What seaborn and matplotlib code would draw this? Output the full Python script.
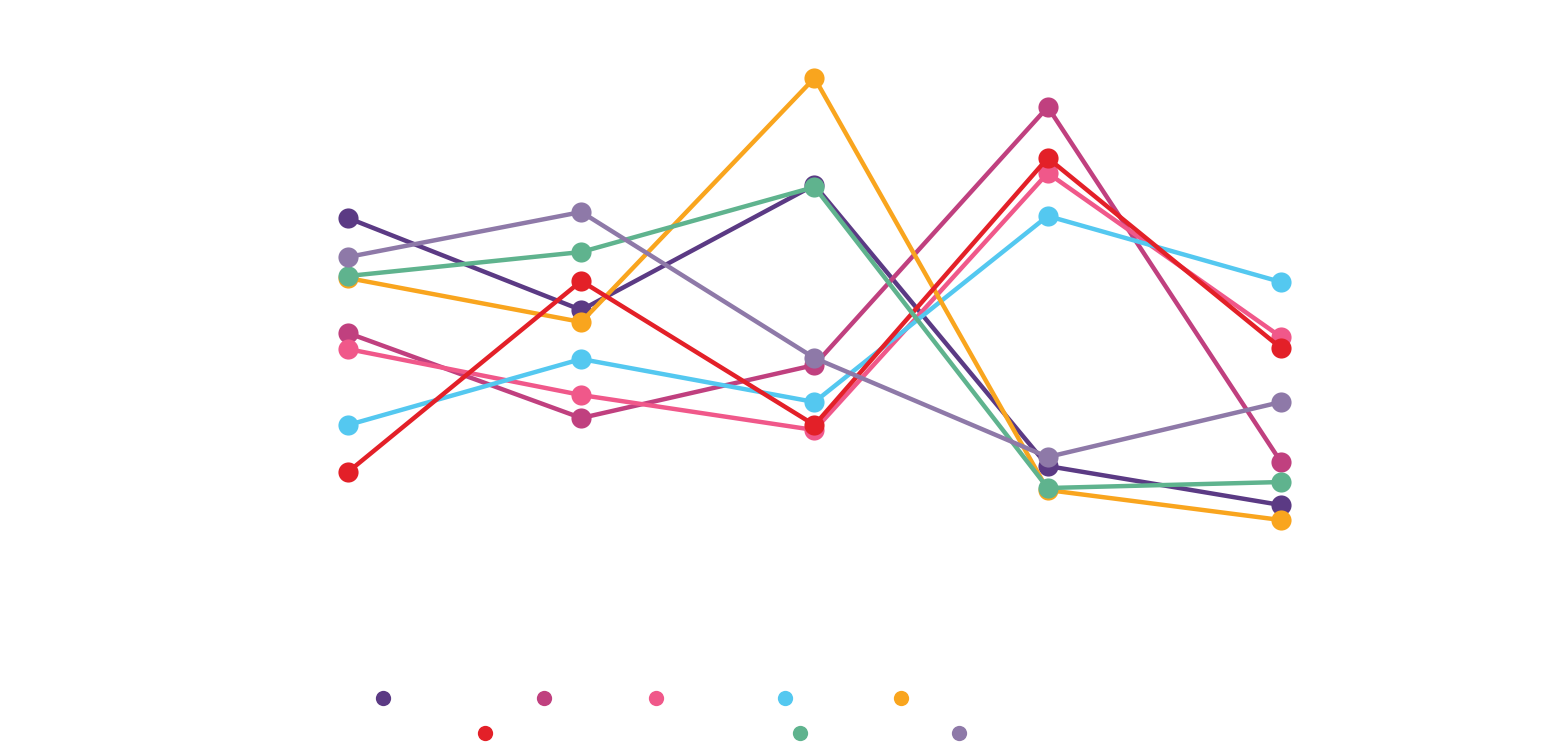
import pandas as pd
import seaborn as sns
import matplotlib.pyplot as plt
from matplotlib.lines import Line2D

# five periods, eight series (no labels are shown on the chart)
periods = [0, 1, 2, 3, 4]
series = ["s1", "s2", "s3", "s4", "s5", "s6", "s7", "s8"]

s1 = [76.4, 58.0, 83.0, 26.8, 19.0]
s2 = [53.4, 36.4, 47.0, 98.6, 27.6]
s3 = [50.2, 41.0, 34.0, 85.4, 52.6]
s4 = [35.0, 48.2, 39.6, 76.8, 63.6]
s5 = [64.4, 55.6, 104.4, 22.0, 16.0]
s6 = [25.6, 63.8, 35.0, 88.4, 50.4]
s7 = [64.8, 69.6, 82.6, 22.4, 23.6]
s8 = [68.6, 77.6, 48.4, 28.6, 39.6]

colors = ["#5B3A84", "#C0407F", "#F0588A", "#54C8F0",
          "#F9A51E", "#E32028", "#5FB38E", "#8E79A8"]

rows = []
for name, vals in zip(series, [s1, s2, s3, s4, s5, s6, s7, s8]):
    for p, v in zip(periods, vals):
        rows.append({"period": p, "value": v, "series": name})
df = pd.DataFrame(rows)

sns.set_style("white")
fig = plt.figure(figsize=(15.45, 7.56), dpi=100)
ax = fig.add_axes([0, 0.2063, 1, 0.7937])

sns.lineplot(data=df, x="period", y="value", hue="series", hue_order=series,
             palette=colors, marker="o", markersize=14.5, markeredgewidth=0,
             linewidth=3.2, legend=False, ax=ax)

ax.set_xlim(-348 / 233.25, (1545 - 348) / 233.25)
ax.set_ylim(0, 120)
ax.axis("off")

# legend: dots only, laid out in two centred rows
legend_pos = [(383, 699), (544, 699), (656, 699), (785, 699), (901, 699),
              (485, 734), (800, 734), (959, 734)]
for c, (lx, ly) in zip(colors, legend_pos):
    h = Line2D([], [], marker="o", linestyle="", color=c, markersize=11,
               markeredgewidth=0)
    fig.legend(handles=[h], labels=[""], loc="center",
               bbox_to_anchor=(lx / 1545, 1 - ly / 756), frameon=False,
               handlelength=1, handletextpad=0, borderpad=0, borderaxespad=0)

fig.savefig("out.png", dpi=100)
